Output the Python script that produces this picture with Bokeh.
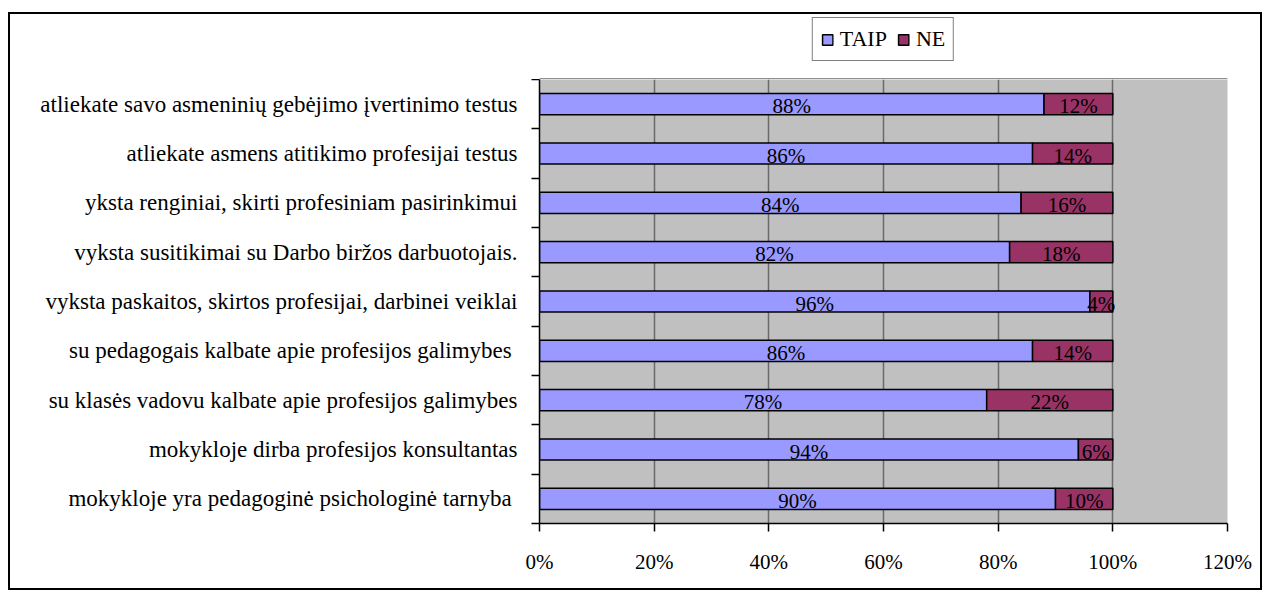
from bokeh.plotting import figure
from bokeh.models import FixedTicker, ColumnDataSource, Legend, LegendItem
from bokeh.layouts import column
from bokeh.embed import file_html
from bokeh.resources import INLINE
from bokeh.core.properties import value

# ---- data (top to bottom as shown) ----
categories = [
    "atliekate savo asmeninių gebėjimo įvertinimo testus",
    "atliekate asmens atitikimo profesijai testus",
    "yksta renginiai, skirti profesiniam pasirinkimui",
    "vyksta susitikimai su Darbo biržos darbuotojais.",
    "vyksta paskaitos, skirtos profesijai, darbinei veiklai",
    "su pedagogais kalbate apie profesijos  galimybes",
    "su klasės vadovu kalbate apie profesijos galimybes",
    "mokykloje dirba profesijos konsultantas",
    "mokykloje yra  pedagoginė psichologinė tarnyba",
]
taip = [88, 86, 84, 82, 96, 86, 78, 94, 90]
ne = [12, 14, 16, 18, 4, 14, 22, 6, 10]
series_names = ["TAIP", "NE"]
series_colors = ["#9999FF", "#993366"]
x_ticks = [0, 20, 40, 60, 80, 100, 120]
x_tick_labels = ["0%", "20%", "40%", "60%", "80%", "100%", "120%"]

FONT = "Liberation Serif"
W = 1250
n = len(categories)
ypos = [n - i - 0.5 for i in range(n)]
total = [a + b for a, b in zip(taip, ne)]

src = ColumnDataSource(dict(
    y=ypos,
    taip=taip,
    ne=ne,
    total=total,
    taip_mid=[a / 2 for a in taip],
    ne_mid=[a + b / 2 for a, b in zip(taip, ne)],
    taip_lbl=[f"{a}%" for a in taip],
    ne_lbl=[f"{b}%" for b in ne],
))

# ---------------- main chart ----------------
p = figure(width=W, height=509, x_range=(0, 120), y_range=(0, n),
           output_backend="svg", toolbar_location=None,
           min_border_left=529, min_border_right=33,
           min_border_top=0, min_border_bottom=65)
p.background_fill_color = "#C0C0C0"
p.border_fill_color = "white"
p.outline_line_color = None

p.hbar(y="y", left=0, right="taip", height=0.43, source=src,
       fill_color=series_colors[0], line_color="black", line_width=1.5)
p.hbar(y="y", left="taip", right="total", height=0.43, source=src,
       fill_color=series_colors[1], line_color="black", line_width=1.5)

for xcol, tcol in (("taip_mid", "taip_lbl"), ("ne_mid", "ne_lbl")):
    p.text(x=xcol, y="y", text=tcol, source=src, text_align="center",
           text_baseline="middle", y_offset=2,
           text_font=value(FONT), text_font_size="21px", text_color="black")

# x axis
p.xaxis.ticker = FixedTicker(ticks=x_ticks)
p.xaxis.major_label_overrides = {t: l for t, l in zip(x_ticks, x_tick_labels)}
p.xaxis.major_tick_out = 8
p.xaxis.major_tick_in = 0
p.xaxis.minor_tick_out = 0
p.xaxis.minor_tick_in = 0
p.xaxis.major_label_standoff = 18
p.xaxis.axis_line_color = "black"
p.xaxis.axis_line_width = 1.5
p.xaxis.major_tick_line_width = 1.5
p.xaxis.major_label_text_font = FONT
p.xaxis.major_label_text_font_size = "21px"
p.xaxis.major_label_text_color = "black"

# y axis: labels at centres, ticks at boundaries
p.yaxis.ticker = FixedTicker(ticks=ypos, minor_ticks=list(range(n + 1)))
p.yaxis.major_label_overrides = {y: c for y, c in zip(ypos, categories)}
p.yaxis.major_tick_out = 0
p.yaxis.major_tick_in = 0
p.yaxis.minor_tick_out = 8
p.yaxis.minor_tick_in = 0
p.yaxis.minor_tick_line_color = "black"
p.yaxis.minor_tick_line_width = 1.5
p.yaxis.major_label_standoff = 14
p.yaxis.axis_line_color = "black"
p.yaxis.axis_line_width = 1.5
p.yaxis.major_label_text_font = FONT
p.yaxis.major_label_text_font_size = "23px"
p.yaxis.major_label_text_color = "black"

p.xgrid.grid_line_color = "#6A6A6A"
p.xgrid.grid_line_width = 1.5
p.ygrid.grid_line_color = None

# ---------------- legend strip above the chart ----------------
lg = figure(width=W, height=65, x_range=(0, 1), y_range=(0, 1),
            output_backend="svg", toolbar_location=None,
            x_axis_type=None, y_axis_type=None,
            min_border_left=493, min_border_right=0,
            min_border_top=0, min_border_bottom=0)
lg.outline_line_color = None
lg.background_fill_color = "white"
lg.border_fill_color = "white"
lg.grid.grid_line_color = None
items = []
for name, col in zip(series_names, series_colors):
    # swatch renderer, placed outside the visible range (only used by the legend)
    r = lg.hbar(y=[-10], left=[0], right=[1], height=0.4,
                fill_color=col, line_color="black", line_width=1.5)
    items.append(LegendItem(label=name, renderers=[r]))

legend = Legend(items=items, orientation="horizontal", location="top_center")
legend.border_line_color = "black"
legend.border_line_width = 1.5
legend.background_fill_color = "white"
legend.background_fill_alpha = 1.0
legend.label_text_font = FONT
legend.label_text_font_size = "22px"
legend.label_text_color = "black"
legend.glyph_width = 13
legend.glyph_height = 13
legend.label_standoff = 6
legend.spacing = 10
legend.padding = 8
legend.margin = 3
lg.add_layout(legend, "center")

layout = column(lg, p, spacing=0,
                styles={"border": "2px solid black",
                        "margin-left": "8px", "margin-top": "12px"})

open("out.html", "w").write(file_html(layout, INLINE))
